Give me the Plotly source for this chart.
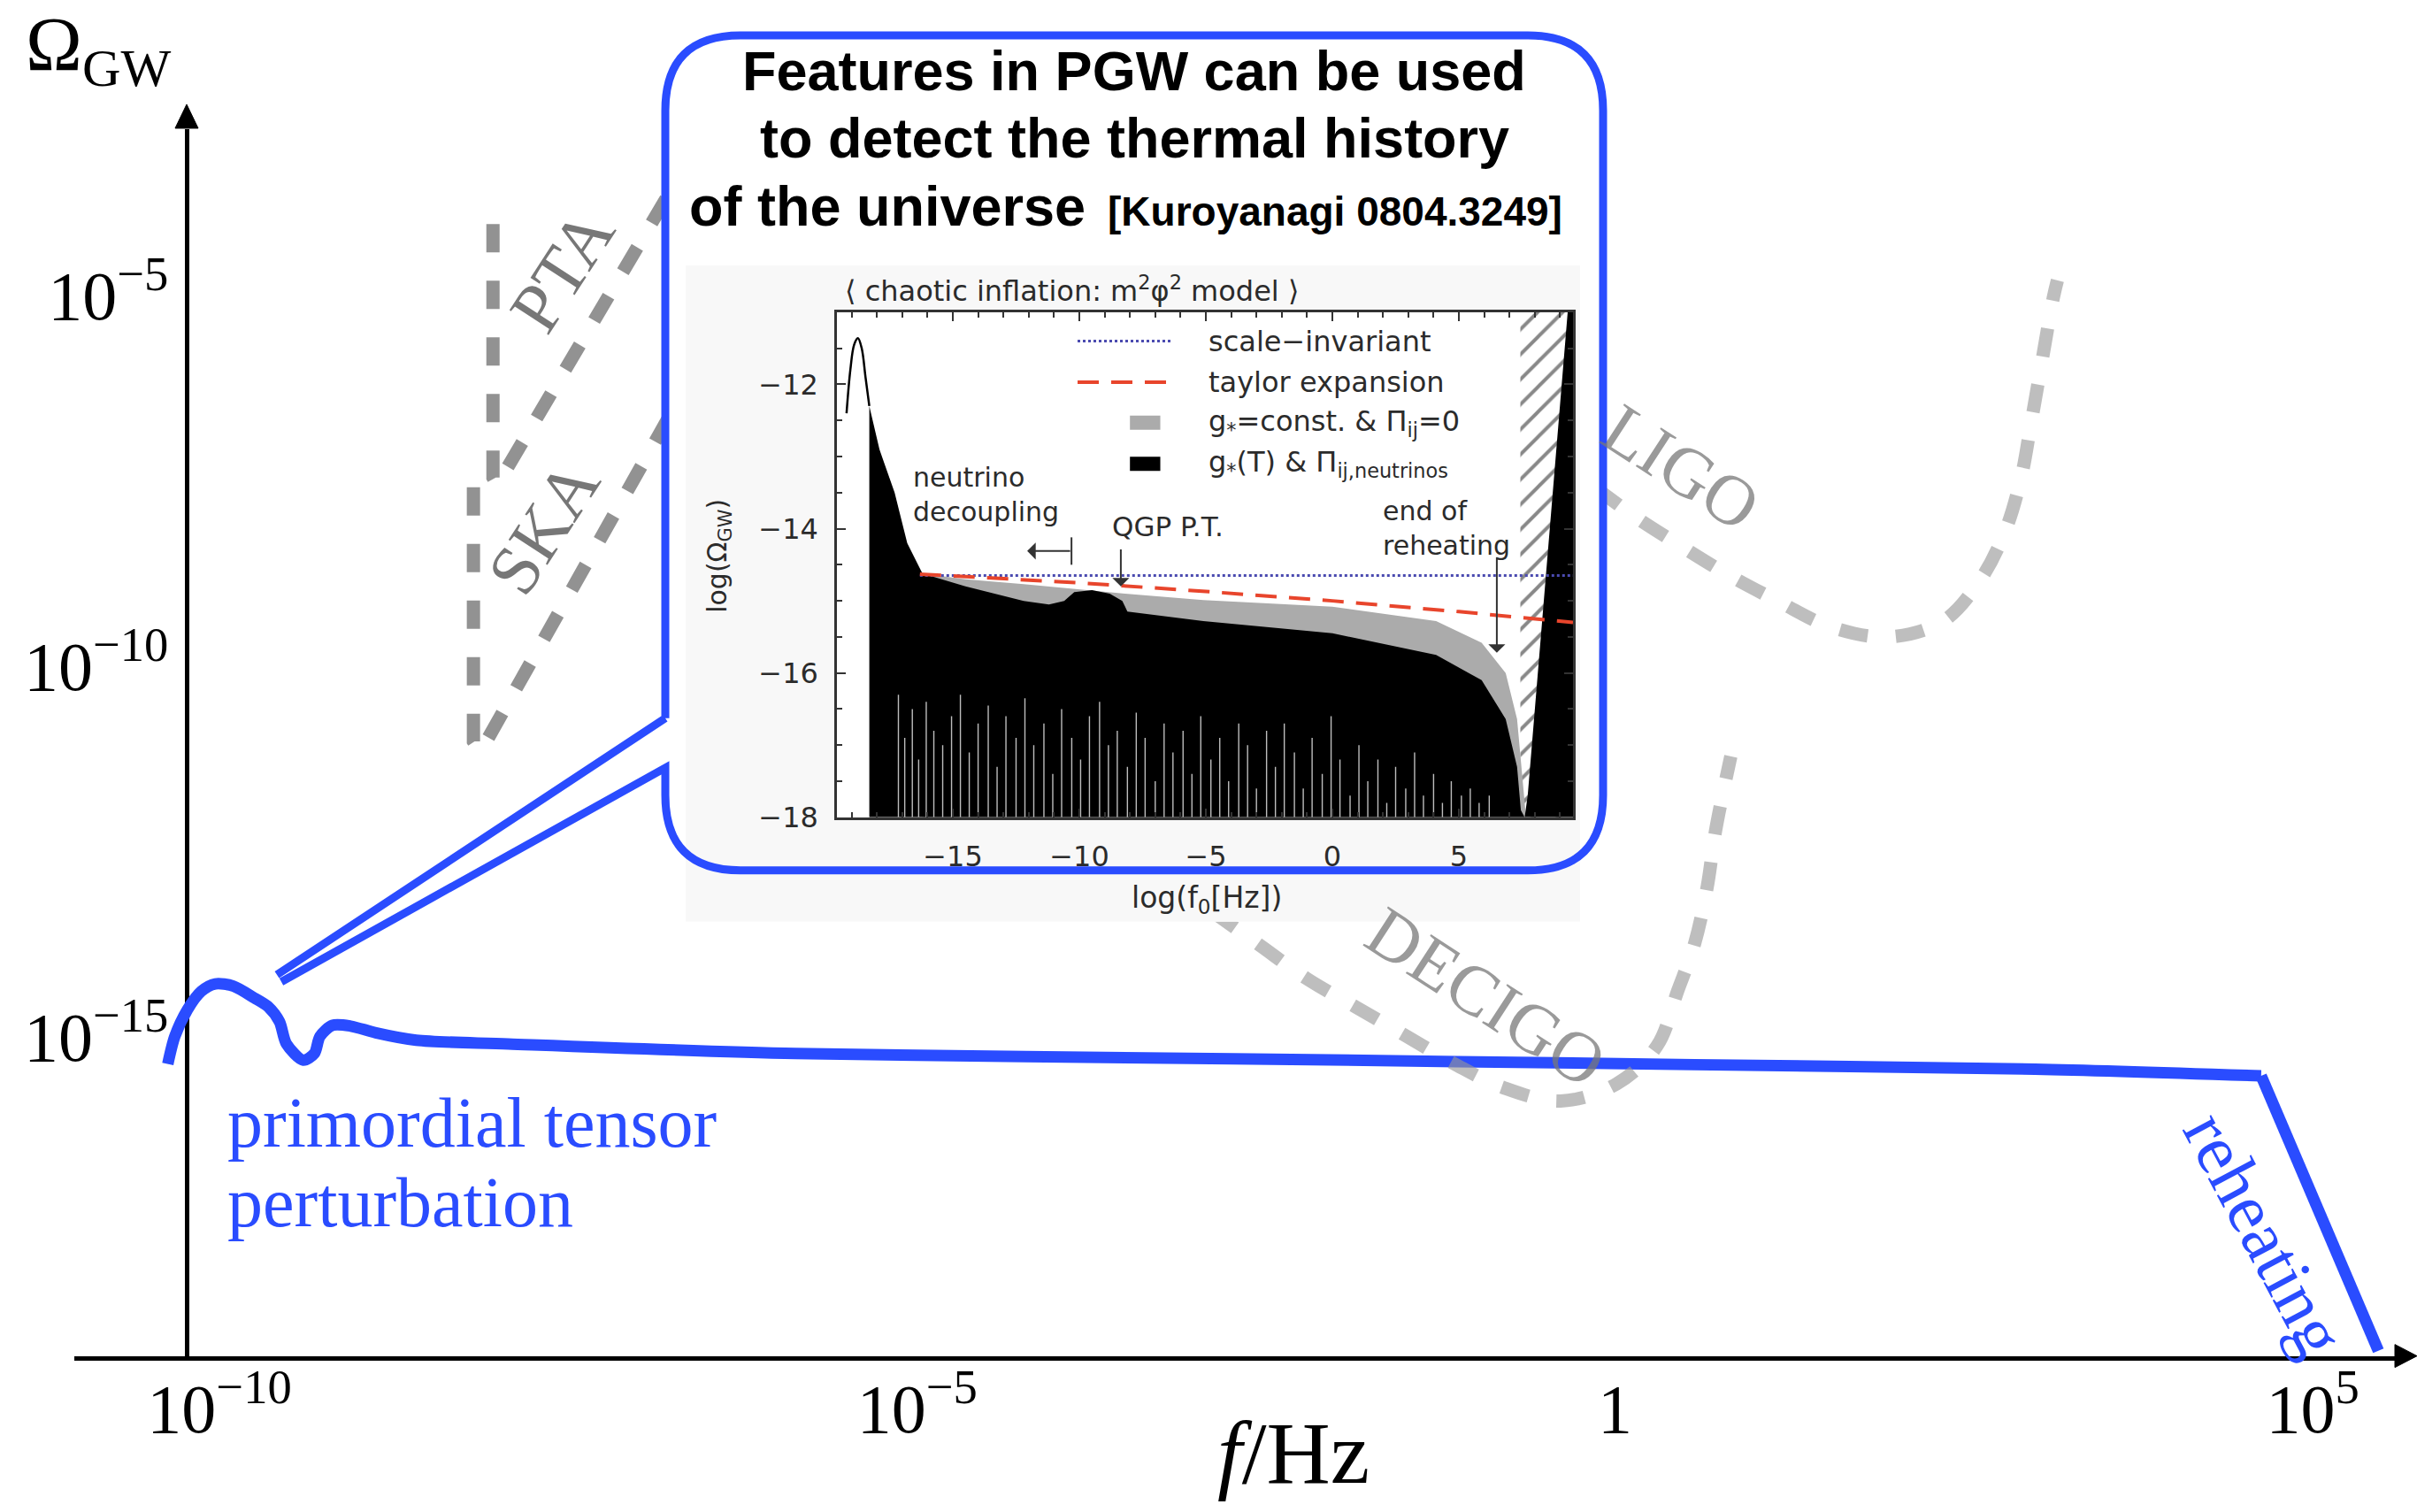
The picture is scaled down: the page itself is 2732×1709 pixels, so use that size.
import plotly.graph_objects as go

W, H = 2732, 1709
KY = 1.011          # small vertical correction so the rendered page matches the reference
BLUE = "#2a4cff"
SERIF = "Liberation Serif, Times New Roman, serif"
SANS = "Liberation Sans, Arial, sans-serif"
WIDE = "DejaVu Sans, Verdana, sans-serif"

# ---------------- main sketch: log10(f/Hz) and log10(Omega_GW) ----------------
spec_logf = [-10.37, -10.32, -10.23, -10.13, -10.03, -9.90, -9.75, -9.65, -9.57,
             -9.52, -9.40, -9.32, -9.28, -9.19, -9.06, -8.88, -8.59, -7.93,
             -5.87, -2.74, 0.57, 3.01, 4.63, 5.47]
spec_logomega = [-15.37, -15.00, -14.64, -14.39, -14.29, -14.32, -14.48, -14.60, -14.80,
                 -15.10, -15.32, -15.23, -15.00, -14.85, -14.86, -14.95, -15.05, -15.10,
                 -15.23, -15.30, -15.38, -15.44, -15.53, -19.24]
reheat_start = 22

pta_logf = [-8.04, -8.04, -8.01, -6.90, -6.56]
pta_logomega = [-4.04, -7.46, -7.56, -3.96, -2.93]
ska_logf = [-8.18, -8.18, -8.13, -7.03, -6.56]
ska_logomega = [-7.59, -11.02, -11.16, -7.46, -5.91]
ligo_logf = [-0.80, -0.24, 0.13, 0.47, 0.81, 1.17, 1.54, 1.95, 2.34, 2.60, 2.79, 2.91, 2.98, 3.05, 3.14, 3.17]
ligo_logomega = [-6.72, -7.46, -7.97, -8.38, -8.77, -9.13, -9.47, -9.61, -9.41, -8.89,
                 -8.21, -7.46, -6.74, -5.99, -5.04, -4.80]
decigo_logf = [-2.89, -2.56, -2.20, -1.86, -1.51, -1.15, -0.80, -0.39, 0.01, 0.30,
               0.45, 0.57, 0.66, 0.72, 0.83]
decigo_logomega = [-13.31, -13.75, -14.23, -14.60, -14.98, -15.37, -15.69, -15.87, -15.64,
                   -15.13, -14.38, -13.75, -12.99, -12.23, -11.22]

x_tickvals = [-10, -5, 0, 5]
x_ticktext = ["10<sup>\u221210</sup>", "10<sup>\u22125</sup>", "1", "10<sup>5</sup>"]
y_tickvals = [-15, -10, -5]
y_ticktext = ["10<sup>\u221215</sup>", "10<sup>\u221210</sup>", "10<sup>\u22125</sup>"]

# ---------------- inset (Kuroyanagi 0804.3249): log10 f0 , log10 Omega_GW ----------------
ins_peak_x = [-19.20, -19.05, -18.90, -18.75, -18.60, -18.45, -18.30]
ins_peak_y = [-12.40, -11.80, -11.45, -11.36, -11.50, -11.90, -12.30]
ins_black_x = [-18.30, -18.10, -17.90, -17.70, -17.30, -16.80, -16.20, -14.50, -12.20, -11.20,
               -10.60, -10.20, -9.50, -8.80, -8.30, -8.10, -5.10, 0.00, 4.10, 5.90,
               6.85, 7.30, 7.45, 7.60, -18.30]
ins_black_y = [-12.30, -12.60, -12.90, -13.10, -13.50, -14.20, -14.62, -14.80, -15.00, -15.05,
               -15.00, -14.88, -14.85, -14.90, -15.00, -15.15, -15.28, -15.45, -15.75, -16.10,
               -16.64, -17.30, -17.90, -18.00, -18.00]
ins_grey_x = [-16.20, -14.50, -12.20, -8.20, -5.10, 0.00, 4.10, 5.90, 6.85, 7.30, 7.55, 7.65, -16.20]
ins_grey_y = [-14.62, -14.70, -14.77, -14.90, -14.99, -15.08, -15.28, -15.58, -16.00, -16.64,
              -17.60, -18.00, -18.00]
ins_scale_x = [-16.30, 9.51]
ins_scale_y = [-14.65, -14.65]
ins_taylor_x = [-16.30, -10.0, -5.0, 0.0, 5.0, 9.51]
ins_taylor_y = [-14.63, -14.75, -14.87, -15.00, -15.15, -15.30]
ins_rspike_x = [7.60, 7.72, 9.30, 9.51, 9.51]
ins_rspike_y = [-18.0, -17.70, -11.0, -11.0, -18.0]
ins_hatch_x = [7.43, 9.51, 9.51, 7.43]
ins_hatch_y = [-18.0, -18.0, -11.0, -11.0]
ins_spikes = [(-17.15, -16.3), (-16.9, -16.9), (-16.6, -16.5), (-16.35, -17.2), (-16.05, -16.4),
              (-15.75, -16.8), (-15.4, -17.0), (-15.05, -16.6), (-14.7, -16.3), (-14.35, -17.1),
              (-14.0, -16.7), (-13.6, -16.45), (-13.25, -17.3), (-12.9, -16.6), (-12.5, -16.9),
              (-12.15, -16.35), (-11.8, -17.0), (-11.4, -16.7), (-11.05, -17.4), (-10.7, -16.5),
              (-10.3, -16.9), (-9.95, -17.2), (-9.6, -16.6), (-9.2, -16.4), (-8.85, -17.0),
              (-8.5, -16.8), (-8.1, -17.3), (-7.75, -16.55), (-7.4, -16.9), (-7.0, -17.5),
              (-6.65, -16.7), (-6.3, -17.1), (-5.9, -16.8), (-5.55, -17.4), (-5.2, -16.6),
              (-4.8, -17.2), (-4.45, -16.9), (-4.1, -17.5), (-3.7, -16.7), (-3.35, -17.0),
              (-3.0, -17.6), (-2.6, -16.8), (-2.25, -17.3), (-1.9, -16.7), (-1.5, -17.1),
              (-1.15, -17.6), (-0.8, -16.9), (-0.4, -17.4), (-0.05, -16.6), (0.3, -17.2),
              (0.7, -17.7), (1.05, -17.0), (1.4, -17.5), (1.8, -17.2), (2.15, -17.8),
              (2.5, -17.3), (2.9, -17.6), (3.25, -17.1), (3.6, -17.7), (4.0, -17.4),
              (4.35, -17.8), (4.7, -17.5), (5.1, -17.7), (5.45, -17.6), (5.8, -17.8), (6.2, -17.7)]


def pxx(x):
    return x / W


def pxy(y):
    return 1 - KY * y / H


def ppt(x, y):
    return f"{pxx(x):.5f},{pxy(y):.5f}"


fig = go.Figure()
skip = dict(hoverinfo="skip", showlegend=False)

# ---- detector sensitivity curves ----
GREY_D = "rgba(100,100,100,0.70)"
GREY_L = "rgba(150,150,150,0.62)"
fig.add_trace(go.Scatter(x=pta_logf, y=pta_logomega, mode="lines",
                         line=dict(color=GREY_D, width=15, dash="32px,32px"), **skip))
fig.add_trace(go.Scatter(x=ska_logf, y=ska_logomega, mode="lines",
                         line=dict(color=GREY_D, width=15, dash="32px,32px"), **skip))

# ---- primordial spectrum ----
fig.add_trace(go.Scatter(x=spec_logf[:reheat_start + 1], y=spec_logomega[:reheat_start + 1],
                         mode="lines", line=dict(color=BLUE, width=13, shape="spline", smoothing=0.8),
                         **skip))
fig.add_trace(go.Scatter(x=spec_logf[reheat_start:], y=spec_logomega[reheat_start:],
                         mode="lines", line=dict(color=BLUE, width=13), **skip))

fig.add_trace(go.Scatter(x=ligo_logf, y=ligo_logomega, mode="lines",
                         line=dict(color=GREY_L, width=15, dash="32px,32px", shape="spline"), **skip))
fig.add_trace(go.Scatter(x=decigo_logf, y=decigo_logomega, mode="lines",
                         line=dict(color=GREY_L, width=15, dash="32px,32px", shape="spline"), **skip))

# ---- inset cover (white box + light image background) ----
fig.add_trace(go.Scatter(x=[0.0244, 0.9728, 0.9728, 0.0244], y=[0, 0, 0.7339, 0.7339],
                         xaxis="x2", yaxis="y2", mode="lines", fill="toself",
                         fillcolor="#f8f8f8", line=dict(width=0), **skip))

# ---- inset chart ----
ia = dict(xaxis="x3", yaxis="y3")
fig.add_trace(go.Scatter(x=ins_hatch_x, y=ins_hatch_y, mode="lines", fill="toself",
                         fillcolor="white", line=dict(width=0),
                         fillpattern=dict(shape="/", fgcolor="#111", bgcolor="white", size=20, solidity=0.2),
                         **ia, **skip))
fig.add_trace(go.Scatter(x=ins_grey_x, y=ins_grey_y, mode="lines", fill="toself",
                         fillcolor="#ababab", line=dict(width=0), **ia, **skip))
fig.add_trace(go.Scatter(x=ins_black_x, y=ins_black_y, mode="lines", fill="toself",
                         fillcolor="black", line=dict(width=0), **ia, **skip))
sx, sy = [], []
for xv, top in ins_spikes:
    sx += [xv, xv, None]
    sy += [-18.0, top, None]
fig.add_trace(go.Scatter(x=sx, y=sy, mode="lines", line=dict(color="#bdbdbd", width=1.4), **ia, **skip))
fig.add_trace(go.Scatter(x=ins_peak_x, y=ins_peak_y, mode="lines",
                         line=dict(color="black", width=2.5, shape="spline"), **ia, **skip))
fig.add_trace(go.Scatter(x=ins_rspike_x, y=ins_rspike_y, mode="lines", fill="toself",
                         fillcolor="black", line=dict(width=0), **ia, **skip))
fig.add_trace(go.Scatter(x=ins_scale_x, y=ins_scale_y, mode="lines",
                         line=dict(color="#4b4bb0", width=3, dash="dot"), **ia, **skip))
fig.add_trace(go.Scatter(x=ins_taylor_x, y=ins_taylor_y, mode="lines",
                         line=dict(color="#e8452c", width=4, dash="24px,14px"), **ia, **skip))

# ---- shapes ----
bubble = [("M", 752, 812), ("L", 752, 125), ("Q", 752, 40, 837, 40), ("L", 1727, 40),
          ("Q", 1812, 40, 1812, 125), ("L", 1812, 899), ("Q", 1812, 984, 1727, 984),
          ("L", 837, 984), ("Q", 752, 984, 752, 899), ("L", 752, 868), ("L", 318, 1110),
          ("M", 313, 1102), ("L", 752, 812)]
parts = []
for seg in bubble:
    c = seg[0]
    coords = seg[1:]
    pts = " ".join(ppt(coords[i], coords[i + 1]) for i in range(0, len(coords), 2))
    parts.append(f"{c}{pts}")
bubble_path = " ".join(parts)

shapes = [
    dict(type="path", xref="paper", yref="paper", path=bubble_path,
         line=dict(color=BLUE, width=9), layer="above"),
    dict(type="path", xref="paper", yref="paper",
         path=f"M{ppt(211, 118)} L{ppt(198, 145)} L{ppt(224, 145)} Z",
         fillcolor="black", line=dict(color="black", width=1), layer="above"),
    dict(type="path", xref="paper", yref="paper",
         path=f"M{ppt(2732, 1533)} L{ppt(2707, 1520)} L{ppt(2707, 1546)} Z",
         fillcolor="black", line=dict(color="black", width=1), layer="above"),
    # inset legend samples
    dict(type="line", xref="x3", yref="y3", x0=-10.07, x1=-6.36, y0=-11.40, y1=-11.40,
         line=dict(color="#4b4bb0", width=3, dash="dot")),
    dict(type="line", xref="x3", yref="y3", x0=-10.07, x1=-6.36, y0=-11.97, y1=-11.97,
         line=dict(color="#e8452c", width=4, dash="24px,14px")),
    dict(type="line", xref="x3", yref="y3", x0=-8.0, x1=-6.8, y0=-12.53, y1=-12.53,
         line=dict(color="#ababab", width=16)),
    dict(type="line", xref="x3", yref="y3", x0=-8.0, x1=-6.8, y0=-13.10, y1=-13.10,
         line=dict(color="black", width=16)),
    dict(type="line", xref="x3", yref="y3", x0=-10.31, x1=-10.31, y0=-14.12, y1=-14.50,
         line=dict(color="#333", width=2)),
]


def ann(text, x, y, size, color="black", family=SERIF, angle=0, xanchor="center", yanchor="middle",
        align="center"):
    return dict(text=text, x=pxx(x), y=pxy(y), xref="paper", yref="paper", showarrow=False,
                font=dict(size=size, color=color, family=family), textangle=angle,
                xanchor=xanchor, yanchor=yanchor, align=align)


def arrow(x, y, ax, ay):
    return dict(text="", x=x, y=y, ax=ax, ay=ay, xref="x3", yref="y3", axref="x3", ayref="y3",
                showarrow=True, arrowhead=1, arrowsize=1.6, arrowwidth=2, arrowcolor="#333")


TXT = "#2b2b2b"
annotations = [
    ann("\u03a9<sub>GW</sub>", 27, 0, 86, xanchor="left", yanchor="top"),
    ann("<i>f</i>/Hz", 1462, 1643, 100),
    ann("primordial tensor", 255, 1269, 80, color=BLUE, xanchor="left"),
    ann("perturbation", 255, 1359, 80, color=BLUE, xanchor="left"),
    ann("reheating", 2560, 1395, 80, color=BLUE, angle=62),
    ann("PTA", 635, 306, 80, color="rgba(95,95,95,0.85)", angle=-57),
    ann("SKA", 614, 596, 80, color="rgba(95,95,95,0.85)", angle=-57),
    ann("LIGO", 1900, 528, 80, color="rgba(120,120,120,0.75)", angle=33),
    ann("DECIGO", 1680, 1127, 80, color="rgba(120,120,120,0.75)", angle=33),
    # inset title
    ann("<b>Features in PGW can be used</b>", 1282, 80, 63, family=SANS),
    ann("<b>to detect the thermal history</b>", 1282, 156, 63, family=SANS),
    ann("<b>of the universe</b>", 1229, 233, 63, family=SANS, xanchor="right"),
    ann("<b>[Kuroyanagi 0804.3249]</b>", 1250, 239, 46, family=SANS, xanchor="left"),
    # inset texts
    ann("\u27e8 chaotic inflation: m<sup>2</sup>\u03c6<sup>2</sup> model \u27e9", 1211, 327, 32,
        color=TXT, family=WIDE),
    ann("scale\u2212invariant", 1364, 386, 32, color=TXT, family=WIDE, xanchor="left"),
    ann("taylor expansion", 1364, 432, 32, color=TXT, family=WIDE, xanchor="left"),
    ann("g<sub>*</sub>=const. & \u03a0<sub>ij</sub>=0", 1364, 478, 32, color=TXT, family=WIDE,
        xanchor="left"),
    ann("g<sub>*</sub>(T) & \u03a0<sub>ij,neutrinos</sub>", 1364, 524, 32, color=TXT, family=WIDE,
        xanchor="left"),
    ann("neutrino<br>decoupling", 1030, 559, 30, color=TXT, family=WIDE, xanchor="left", align="left"),
    ann("QGP P.T.", 1320, 595, 31, color=TXT, family=WIDE),
    ann("end of<br>reheating", 1561, 597, 30, color=TXT, family=WIDE, xanchor="left", align="left"),
    ann("log(\u03a9<sub>GW</sub>)", 813, 629, 30, color=TXT, family=WIDE, angle=-90),
    ann("log(f<sub>0</sub>[Hz])", 1364, 1017, 33, color=TXT, family=WIDE),
    arrow(-8.36, -14.80, -8.36, -14.27),
    arrow(6.50, -15.72, 6.50, -14.38),
    arrow(-12.06, -14.31, -10.31, -14.31),
]

inset_axis = dict(showline=True, linecolor="#333", linewidth=2.5, mirror="ticks", ticks="inside",
                  ticklen=10, tickwidth=2, tickcolor="#333", showgrid=False, zeroline=False,
                  tickfont=dict(family=WIDE, size=32, color=TXT))

fig.update_layout(
    width=W, height=H, margin=dict(l=0, r=0, t=0, b=0),
    paper_bgcolor="white", plot_bgcolor="white", showlegend=False,
    xaxis=dict(domain=[84 / W, 2712 / W], range=[-11.04, 5.62], anchor="y",
               showline=True, linecolor="black", linewidth=5, ticks="",
               tickmode="array", tickvals=x_tickvals, ticktext=x_ticktext,
               tickfont=dict(family=SERIF, size=78, color="black"), ticklabelstandoff=-12,
               showgrid=False, zeroline=False, layer="below traces"),
    yaxis=dict(domain=[pxy(1533), pxy(146)], range=[-19.31, -2.759], anchor="free",
               position=211 / W, showline=True, linecolor="black", linewidth=5, ticks="",
               tickmode="array", tickvals=y_tickvals, ticktext=y_ticktext,
               tickfont=dict(family=SERIF, size=78, color="black"), ticklabelstandoff=3,
               showgrid=False, zeroline=False, layer="below traces"),
    xaxis2=dict(domain=[749 / W, 1815 / W], range=[0, 1], anchor="y2", visible=False),
    yaxis2=dict(domain=[pxy(1042), pxy(31)], range=[0, 1], anchor="x2", visible=False),
    xaxis3=dict(domain=[946 / W, 1778 / W], range=[-19.58, 9.51], anchor="y3",
                tickmode="linear", tick0=-15, dtick=5, ticklabelstandoff=14,
                minor=dict(dtick=1, tick0=0, ticks="inside", ticklen=6, tickwidth=1.5, tickcolor="#333"),
                **inset_axis),
    yaxis3=dict(domain=[pxy(924), pxy(353)], range=[-18, -11], anchor="x3",
                tickmode="linear", tick0=-18, dtick=2, ticklabelstandoff=12,
                minor=dict(dtick=0.5, tick0=-18, ticks="inside", ticklen=6, tickwidth=1.5, tickcolor="#333"),
                **inset_axis),
    shapes=shapes,
    annotations=annotations,
)

fig.write_html("out.html")
